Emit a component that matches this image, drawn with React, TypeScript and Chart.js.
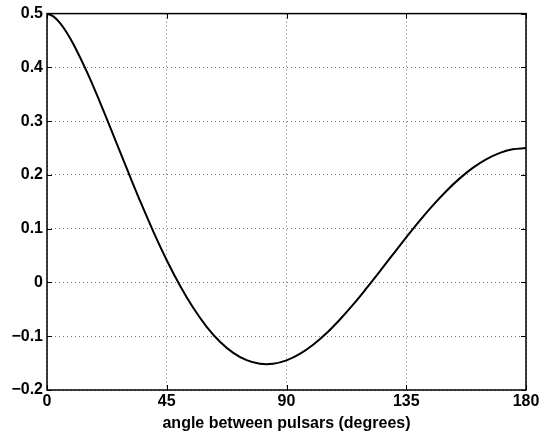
import React, { useEffect, useRef } from "react";
import { Chart, registerables } from "chart.js";

Chart.register(...registerables);

const angles = [0, 2.5, 5, 7.5, 10, 15, 20, 25, 30, 35, 40, 45, 50, 55, 60, 65, 70, 75, 80, 85, 90, 95, 100, 105, 110, 115, 120, 125, 130, 135, 140, 145, 150, 155, 160, 165, 170, 175, 180];
const correlation = [0.5, 0.4944, 0.4816, 0.4639, 0.4425, 0.3917, 0.3341, 0.2732, 0.2116, 0.1514, 0.0942, 0.0414, -0.0061, -0.0476, -0.0824, -0.1102, -0.1309, -0.1445, -0.1511, -0.1511, -0.1449, -0.1329, -0.1158, -0.0945, -0.0693, -0.0413, -0.0111, 0.0203, 0.0522, 0.0839, 0.1145, 0.1433, 0.1697, 0.1931, 0.2130, 0.2289, 0.2405, 0.2476, 0.25];
const xTicks = [0, 45, 90, 135, 180];
const yTicks = [-0.2, -0.1, 0, 0.1, 0.2, 0.3, 0.4, 0.5];
const xTitle = "angle between pulsars (degrees)";

const framePlugin = {
  id: "frame",
  afterDraw(chart: any) {
    const { ctx, chartArea: a, scales } = chart;
    ctx.save();
    ctx.strokeStyle = "#000";
    ctx.lineWidth = 1;
    ctx.setLineDash([]);
    const L = 5;
    ctx.beginPath();
    for (const v of xTicks) {
      const px = Math.round(scales.x.getPixelForValue(v)) + 0.5;
      ctx.moveTo(px, a.bottom);
      ctx.lineTo(px, a.bottom - L);
      ctx.moveTo(px, a.top);
      ctx.lineTo(px, a.top + L);
    }
    for (const v of yTicks) {
      const py = Math.round(scales.y.getPixelForValue(v)) + 0.5;
      ctx.moveTo(a.left, py);
      ctx.lineTo(a.left + L, py);
      ctx.moveTo(a.right, py);
      ctx.lineTo(a.right - L, py);
    }
    ctx.stroke();
    ctx.lineWidth = 1.5;
    ctx.strokeRect(a.left, a.top, a.right - a.left, a.bottom - a.top);
    ctx.restore();
  },
};

export default function App() {
  const ref = useRef<HTMLCanvasElement>(null);
  useEffect(() => {
    document.body.style.margin = "0";
    const font = { family: "'Liberation Sans', Arial, Helvetica, sans-serif", size: 16, weight: "bold" as const };
    const chart = new Chart(ref.current!, {
      type: "line",
      data: {
        datasets: [
          {
            data: angles.map((a, i) => ({ x: a, y: correlation[i] })),
            borderColor: "#000",
            borderWidth: 2,
            pointRadius: 0,
            tension: 0.4,
            fill: false,
          },
        ],
      },
      options: {
        animation: false,
        responsive: false,
        maintainAspectRatio: false,
        layout: { padding: { top: 12, right: 20, left: 0, bottom: 0 } },
        plugins: { legend: { display: false }, tooltip: { enabled: false } },
        scales: {
          x: {
            type: "linear",
            min: 0,
            max: 180,
            afterBuildTicks: (s: any) => {
              s.ticks = xTicks.map((v) => ({ value: v }));
            },
            afterFit: (s: any) => {
              s.height = 43;
            },
            ticks: { color: "#000", font, padding: 2, maxRotation: 0, callback: (v: any) => String(v) },
            grid: { color: "#777", drawTicks: false, lineWidth: 1 },
            border: { display: false, dash: [1, 3] },
            title: { display: true, text: xTitle, color: "#000", font, padding: { top: 0, bottom: 0 } },
          },
          y: {
            type: "linear",
            min: -0.2,
            max: 0.5,
            afterBuildTicks: (s: any) => {
              s.ticks = yTicks.map((v) => ({ value: v }));
            },
            afterFit: (s: any) => {
              s.width = 47;
            },
            ticks: {
              color: "#000",
              font,
              padding: 4,
              callback: (v: any) => {
                const n = Number(v);
                if (Math.abs(n) < 1e-9) return "0";
                return n.toFixed(1).replace("-", "\u2212");
              },
            },
            grid: { color: "#777", drawTicks: false, lineWidth: 1 },
            border: { display: false, dash: [1, 3] },
          },
        },
      },
      plugins: [framePlugin],
    });
    return () => chart.destroy();
  }, []);
  return (
    <div style={{ width: 546, height: 433 }}>
      <canvas ref={ref} width={546} height={433} style={{ display: "block" }} />
    </div>
  );
}
